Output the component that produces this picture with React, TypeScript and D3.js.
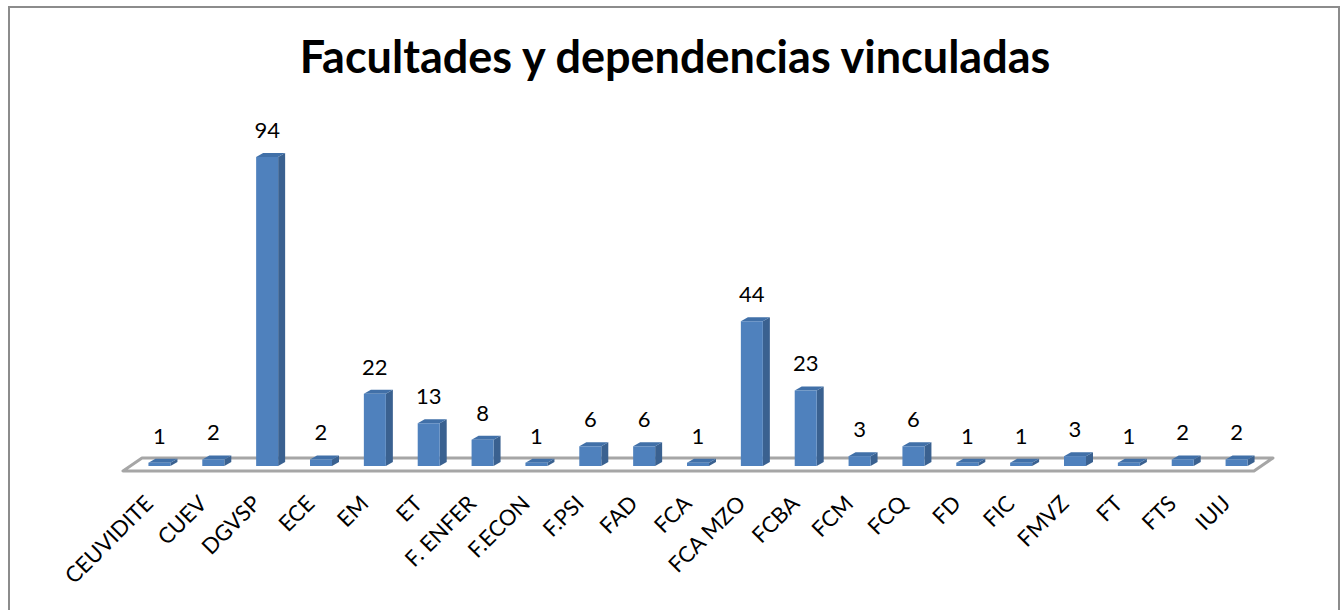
import React from 'react';
import * as d3 from 'd3';

const categories = [
  'CEUVIDITE', 'CUEV', 'DGVSP', 'ECE', 'EM', 'ET', 'F. ENFER', 'F.ECON', 'F.PSI', 'FAD',
  'FCA', 'FCA MZO', 'FCBA', 'FCM', 'FCQ', 'FD', 'FIC', 'FMVZ', 'FT', 'FTS', 'IUIJ',
];
const values = [1, 2, 94, 2, 22, 13, 8, 1, 6, 6, 1, 44, 23, 3, 6, 1, 1, 3, 1, 2, 2];
const title = 'Facultades y dependencias vinculadas';

const W = 1341;
const H = 610;
const FONT = 'Lato, "Open Sans", sans-serif';

// floor parallelogram (front edge + depth offset)
const floorLeft = 123;
const floorRight = 1254;
const floorFrontY = 471;
const depth = { dx: 19, dy: -13 };

// bar side depth
const bd = { dx: 7, dy: -4 };
const barW = 22;

const App: React.FC = () => {
  const x = d3
    .scalePoint<string>()
    .domain(categories)
    .range([floorLeft + depth.dx / 2, floorRight + depth.dx / 2])
    .padding(0.5);

  const y = d3.scaleLinear().domain([0, 94]).range([466, 157]);

  const floorPts = [
    [floorLeft, floorFrontY],
    [floorRight, floorFrontY],
    [floorRight + depth.dx, floorFrontY + depth.dy],
    [floorLeft + depth.dx, floorFrontY + depth.dy],
  ];

  const poly = (pts: number[][]) => pts.map((p) => p.join(',')).join(' ');

  return (
    <svg
      width={W}
      height={H}
      style={{ position: 'absolute', left: 0, top: 0, background: '#fff' }}
    >
      <rect x={9} y={7} width={1330} height={620} fill="#fff" stroke="#8c8c8c" strokeWidth={2} />
      <text
        x={675}
        y={73}
        textAnchor="middle"
        fontFamily={FONT}
        fontWeight="bold"
        fontSize={45}
        fill="#000"
      >
        {title}
      </text>

      <polygon points={poly(floorPts)} fill="#fff" stroke="#a6a6a6" strokeWidth={3} strokeLinejoin="round" />

      {categories.map((c, i) => {
        const cx = x(c)!;
        const x0 = cx - barW / 2;
        const x1 = cx + barW / 2;
        const yb = y(0);
        const yt = y(values[i]);
        const front = [
          [x0, yt], [x1, yt], [x1, yb], [x0, yb],
        ];
        const side = [
          [x1, yt], [x1 + bd.dx, yt + bd.dy], [x1 + bd.dx, yb + bd.dy], [x1, yb],
        ];
        const top = [
          [x0, yt], [x0 + bd.dx, yt + bd.dy], [x1 + bd.dx, yt + bd.dy], [x1, yt],
        ];
        return (
          <g key={c}>
            <polygon points={poly(side)} fill="#3a6190" />
            <polygon points={poly(top)} fill="#4170a8" />
            <polygon points={poly(front)} fill="#4f81bd" />
            <text
              x={cx}
              y={yt - 19}
              textAnchor="middle"
              fontFamily={FONT}
              fontSize={22}
              fill="#000"
            >
              {values[i]}
            </text>
          </g>
        );
      })}

      {categories.map((c) => (
        <text
          key={'l' + c}
          transform={`translate(${x(c)! - 5},${505}) rotate(-45)`}
          textAnchor="end"
          fontFamily={FONT}
          fontSize={22}
          fill="#000"
        >
          {c}
        </text>
      ))}
    </svg>
  );
};

export default App;
